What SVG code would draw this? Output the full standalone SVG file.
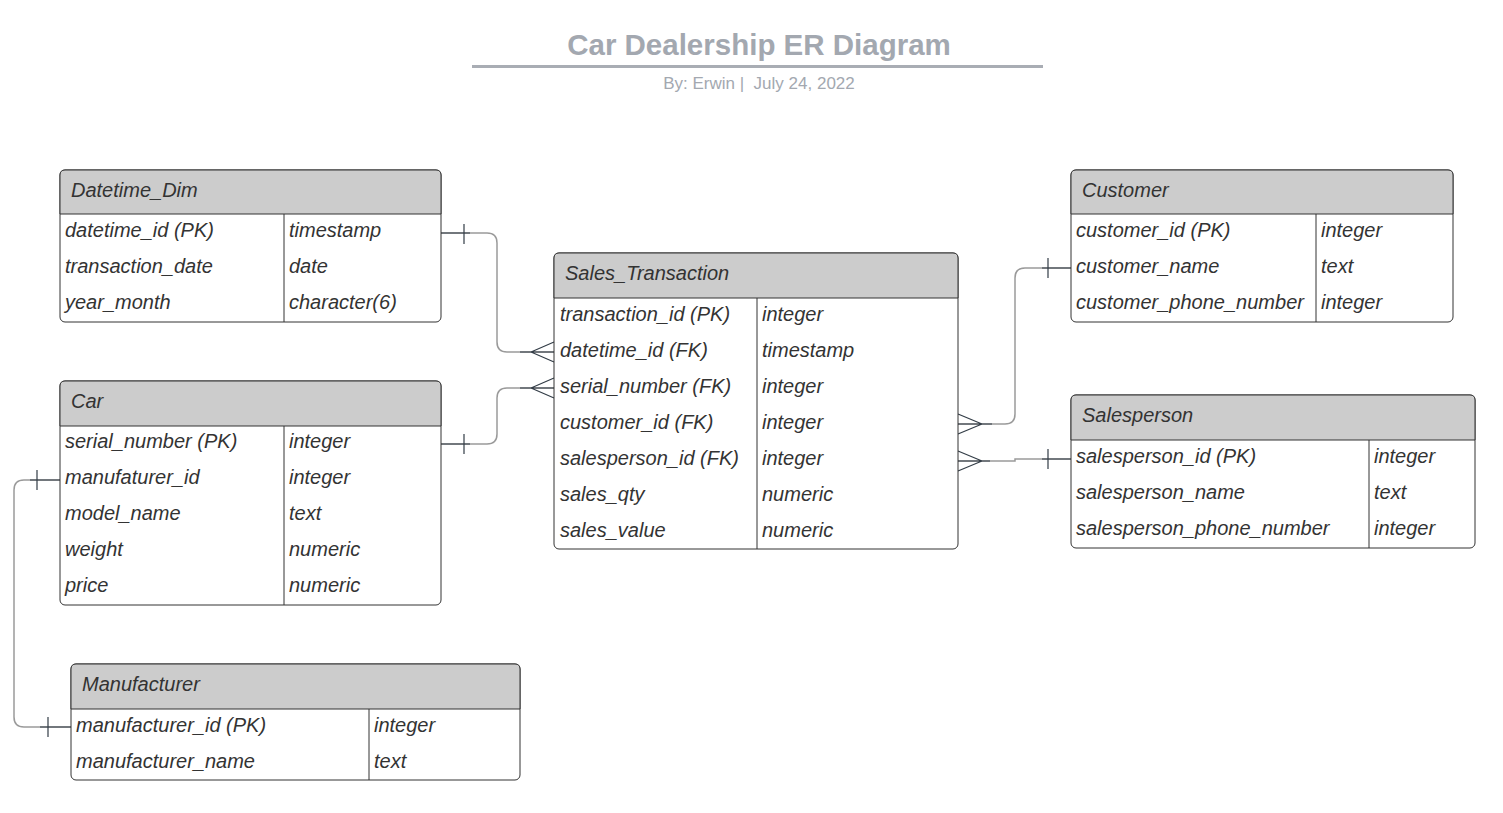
<svg xmlns="http://www.w3.org/2000/svg" width="1503" height="813" viewBox="0 0 1503 813">
<style>
.t{font-family:"Liberation Sans",Arial,sans-serif;font-style:italic;font-size:20px;fill:#333333}
.box{fill:#ffffff;stroke:#333333;stroke-width:1}
.hd{fill:#cccccc;stroke:#333333;stroke-width:1}
.dv{stroke:#333333;stroke-width:1}
.ln{fill:none;stroke:#9a9a9a;stroke-width:1.5}
.en{fill:none;stroke:#333d47;stroke-width:1.2}
.title{font-family:"Liberation Sans",Arial,sans-serif;font-weight:bold;font-size:29.5px;fill:#a3a8b0}
.sub{font-family:"Liberation Sans",Arial,sans-serif;font-size:17px;fill:#a3a8b0;white-space:pre}
</style>
<rect width="1503" height="813" fill="#ffffff"/>
<g id="title">
<text class="title" x="759" y="55" text-anchor="middle">Car Dealership ER Diagram</text>
<line x1="472" y1="66.5" x2="1043" y2="66.5" stroke="#a9adb4" stroke-width="3"/>
<text class="sub" x="759" y="89" text-anchor="middle" xml:space="preserve">By: Erwin |  July 24, 2022</text>
</g>
<g id="connectors">
<path class="ln" d="M441,233 H487 Q497,233 497,243 V342 Q497,352 507,352 H554"/>
<path class="en" d="M441,233 H470 M464,224 V244 M554,352 H520 M531,352 L554,342 M531,352 L554,362"/>
<path class="ln" d="M441,444 H487 Q497,444 497,434 V398 Q497,388 507,388 H554"/>
<path class="en" d="M441,444 H470 M464,434 V454 M554,388 H520 M531,388 L554,378 M531,388 L554,398"/>
<path class="ln" d="M1071,268 H1025 Q1015,268 1015,278 V414 Q1015,424 1005,424 H958"/>
<path class="en" d="M1071,268 H1042 M1048,258 V278 M958,424 H992 M982,424 L958,414 M982,424 L958,434"/>
<path class="ln" d="M1071,459 H1015 V461 H958"/>
<path class="en" d="M1071,459 H1042 M1048,449 V469 M958,461 H990 M982,461 L958,451 M982,461 L958,471"/>
<path class="ln" d="M60,480 H24 Q14,480 14,490 V717 Q14,727 24,727 H71"/>
<path class="en" d="M60,480 H30 M37,470 V490 M71,727 H40 M48,717 V737"/>
</g>
<g id="Datetime_Dim">
<rect class="box" x="60" y="170" width="381" height="152" rx="5"/>
<path class="hd" d="M60,214 V175 Q60,170 65,170 H436 Q441,170 441,175 V214 Z"/>
<line class="dv" x1="284" y1="214" x2="284" y2="322"/>
<text class="t" x="71" y="197">Datetime_Dim</text>
<text class="t" x="65" y="237">datetime_id (PK)</text><text class="t" x="289" y="237">timestamp</text>
<text class="t" x="65" y="273">transaction_date</text><text class="t" x="289" y="273">date</text>
<text class="t" x="65" y="309">year_month</text><text class="t" x="289" y="309">character(6)</text>
</g>
<g id="Car">
<rect class="box" x="60" y="381" width="381" height="224" rx="5"/>
<path class="hd" d="M60,426 V386 Q60,381 65,381 H436 Q441,381 441,386 V426 Z"/>
<line class="dv" x1="284" y1="426" x2="284" y2="605"/>
<text class="t" x="71" y="408">Car</text>
<text class="t" x="65" y="448">serial_number (PK)</text><text class="t" x="289" y="448">integer</text>
<text class="t" x="65" y="484">manufaturer_id</text><text class="t" x="289" y="484">integer</text>
<text class="t" x="65" y="520">model_name</text><text class="t" x="289" y="520">text</text>
<text class="t" x="65" y="556">weight</text><text class="t" x="289" y="556">numeric</text>
<text class="t" x="65" y="592">price</text><text class="t" x="289" y="592">numeric</text>
</g>
<g id="Manufacturer">
<rect class="box" x="71" y="664" width="449" height="116" rx="5"/>
<path class="hd" d="M71,709 V669 Q71,664 76,664 H515 Q520,664 520,669 V709 Z"/>
<line class="dv" x1="369" y1="709" x2="369" y2="780"/>
<text class="t" x="82" y="691">Manufacturer</text>
<text class="t" x="76" y="732">manufacturer_id (PK)</text><text class="t" x="374" y="732">integer</text>
<text class="t" x="76" y="768">manufacturer_name</text><text class="t" x="374" y="768">text</text>
</g>
<g id="Sales_Transaction">
<rect class="box" x="554" y="253" width="404" height="296" rx="5"/>
<path class="hd" d="M554,298 V258 Q554,253 559,253 H953 Q958,253 958,258 V298 Z"/>
<line class="dv" x1="757" y1="298" x2="757" y2="549"/>
<text class="t" x="565" y="280">Sales_Transaction</text>
<text class="t" x="560" y="321">transaction_id (PK)</text><text class="t" x="762" y="321">integer</text>
<text class="t" x="560" y="357">datetime_id (FK)</text><text class="t" x="762" y="357">timestamp</text>
<text class="t" x="560" y="393">serial_number (FK)</text><text class="t" x="762" y="393">integer</text>
<text class="t" x="560" y="429">customer_id (FK)</text><text class="t" x="762" y="429">integer</text>
<text class="t" x="560" y="465">salesperson_id (FK)</text><text class="t" x="762" y="465">integer</text>
<text class="t" x="560" y="501">sales_qty</text><text class="t" x="762" y="501">numeric</text>
<text class="t" x="560" y="537">sales_value</text><text class="t" x="762" y="537">numeric</text>
</g>
<g id="Customer">
<rect class="box" x="1071" y="170" width="382" height="152" rx="5"/>
<path class="hd" d="M1071,214 V175 Q1071,170 1076,170 H1448 Q1453,170 1453,175 V214 Z"/>
<line class="dv" x1="1316" y1="214" x2="1316" y2="322"/>
<text class="t" x="1082" y="197">Customer</text>
<text class="t" x="1076" y="237">customer_id (PK)</text><text class="t" x="1321" y="237">integer</text>
<text class="t" x="1076" y="273">customer_name</text><text class="t" x="1321" y="273">text</text>
<text class="t" x="1076" y="309">customer_phone_number</text><text class="t" x="1321" y="309">integer</text>
</g>
<g id="Salesperson">
<rect class="box" x="1071" y="395" width="404" height="153" rx="5"/>
<path class="hd" d="M1071,440 V400 Q1071,395 1076,395 H1470 Q1475,395 1475,400 V440 Z"/>
<line class="dv" x1="1369" y1="440" x2="1369" y2="548"/>
<text class="t" x="1082" y="422">Salesperson</text>
<text class="t" x="1076" y="463">salesperson_id (PK)</text><text class="t" x="1374" y="463">integer</text>
<text class="t" x="1076" y="499">salesperson_name</text><text class="t" x="1374" y="499">text</text>
<text class="t" x="1076" y="535">salesperson_phone_number</text><text class="t" x="1374" y="535">integer</text>
</g>
</svg>
